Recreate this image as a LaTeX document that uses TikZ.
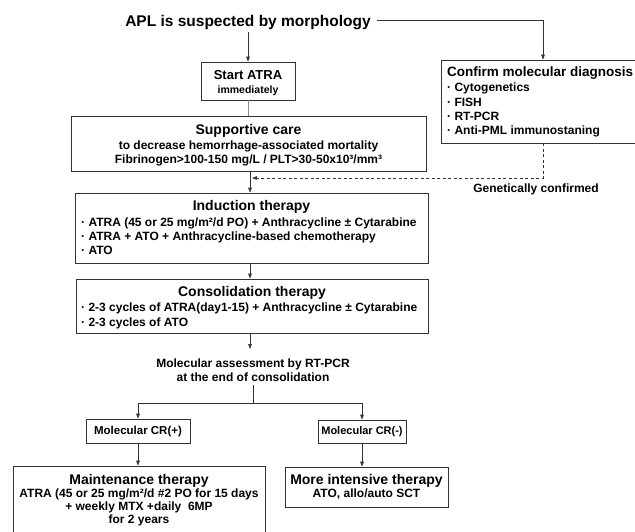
\documentclass[tikz,border=0pt]{standalone}
\usepackage{fontspec}
\setmainfont{Liberation Sans}
\usetikzlibrary{arrows.meta}
\newcommand\myfs[1]{\fontsize{#1}{#1}\selectfont\bfseries}
\begin{document}
\begin{tikzpicture}[x=1pt,y=-1pt,
  box/.style={draw=black!80, line width=0.7pt, inner sep=0pt, rectangle},
  txt/.style={inner sep=0pt, anchor=base, text=black},
  ttl/.style={txt, font=\myfs{14}},
  bod/.style={txt, font=\myfs{12}},
  bodl/.style={bod, anchor=base west},
  conn/.style={draw=black!80, line width=0.7pt},
  arr/.style={conn, -{Triangle[length=5pt,width=3.6pt]}},
  dsh/.style={arr, dash pattern=on 3pt off 2.5pt},
]
\useasboundingbox (0,0) rectangle (635,531);
\clip (0,0) rectangle (635,531);
\fill[white] (0,0) rectangle (635,531);

% boxes
\node[box, minimum width=94pt, minimum height=38pt] (start) at (248,81) {};
\node[box, minimum width=355pt, minimum height=55pt] (sup) at (248.5,143.5) {};
\node[box, minimum width=353pt, minimum height=70pt] (ind) at (251.5,228) {};
\node[box, minimum width=352pt, minimum height=54pt] (cons) at (252,306) {};
\node[box, minimum width=219pt, minimum height=83pt] (conf) at (550.5,101.5) {};
\node[box, minimum width=104pt, minimum height=24pt] (crp) at (138,431) {};
\node[box, minimum width=88pt, minimum height=23pt] (crm) at (362,431.5) {};
\node[box, minimum width=252pt, minimum height=84pt] (maint) at (139,508) {};
\node[box, minimum width=163pt, minimum height=40pt] (more) at (366.5,487) {};

% texts
\node[txt, font=\myfs{15.5}] (title) at (248,26) {APL is suspected by morphology};
\node[txt, font=\myfs{13}] (st1) at (248,79.3) {Start ATRA};
\node[txt, font=\myfs{10.5}] (st2) at (248,93.5) {immediately};

\node[ttl] (sup1) at (248.5,134.6) {Supportive care};
\node[bod] (sup2) at (248.5,149.8) {to decrease hemorrhage-associated mortality};
\node[bod] (sup3) at (248.5,163.8) {Fibrinogen>100-150 mg/L / PLT>30-50x10³/mm³};

\node[ttl] (ind1) at (251.5,210.6) {Induction therapy};
\node[bodl] (ind2) at (81,226.8) {· ATRA (45 or 25 mg/m²/d PO) + Anthracycline ± Cytarabine};
\node[bodl] (ind3) at (81,240.8) {· ATRA + ATO + Anthracycline-based chemotherapy};
\node[bodl] (ind4) at (81,254.8) {· ATO};

\node[ttl] (cons1) at (252,296.6) {Consolidation therapy};
\node[bodl] (cons2) at (81,311.8) {· 2-3 cycles of ATRA(day1-15) + Anthracycline ± Cytarabine};
\node[bodl] (cons3) at (81,326.8) {· 2-3 cycles of ATO};

\node[txt, font=\myfs{13.5}, anchor=base west] (conf1) at (447,76.6) {Confirm molecular diagnosis};
\node[bodl] (conf2) at (447,91.8) {· Cytogenetics};
\node[bodl] (conf3) at (447,106.8) {· FISH};
\node[bodl] (conf4) at (447,120.8) {· RT-PCR};
\node[bodl] (conf5) at (447,134.8) {· Anti-PML immunostaning};

\node[bod] (gen) at (536,192.8) {Genetically confirmed};

\node[bod] (mol1) at (253,367.8) {Molecular assessment by RT-PCR};
\node[bod] (mol2) at (253,381.8) {at the end of consolidation};

\node[txt, font=\myfs{11.5}] (crpt) at (138,434.8) {Molecular CR(+)};
\node[txt, font=\myfs{11}] (crmt) at (362,434.6) {Molecular CR(-)};

\node[ttl] (m1) at (139,484.6) {Maintenance therapy};
\node[bod] (m2) at (139,497.8) {ATRA (45 or 25 mg/m²/d \#2 PO for 15 days};
\node[bod] (m3) at (139,510.8) {+ weekly MTX +daily\ \ 6MP};
\node[bod] (m4) at (139,523.8) {for 2 years};

\node[ttl] (mo1) at (366.5,484.6) {More intensive therapy};
\node[bod] (mo2) at (366.5,497.8) {ATO, allo/auto SCT};

% coordinates
\coordinate (cturn) at (543,20);
\coordinate (tstart) at ([xshift=6pt]title.east);
\coordinate (dj) at (543,178);
\coordinate (dend) at (252,178);
\coordinate (mx) at (250,0);
\coordinate (mtop) at (250,349);
\coordinate (msplit) at (253,403);

% connectors
\draw[arr, shorten <=3pt] (title.south) -- (start.north);
\draw[arr] (tstart |- cturn) -- (cturn) -- (cturn |- conf.north);
\draw[draw=black!45, line width=1pt] (start.south) -- (start.south |- sup.north);
\draw[arr] (sup.south -| mx) -- (ind.north -| mx);
\draw[dsh] (conf.south -| dj) -- (dj) -- (dend);
\draw[arr] (ind.south -| mx) -- (cons.north -| mx);
\draw[arr] (cons.south -| mx) -- (mtop);
\draw[conn] ([yshift=-3pt]mol2.south) -- (mol2.south |- msplit);
\draw[arr] (msplit) -| (crp.north);
\draw[arr] (msplit) -| (crm.north);
\draw[arr] (crp.south) -- (crp.south |- maint.north);
\draw[arr] (crm.south) -- (crm.south |- more.north);
\end{tikzpicture}
\end{document}
